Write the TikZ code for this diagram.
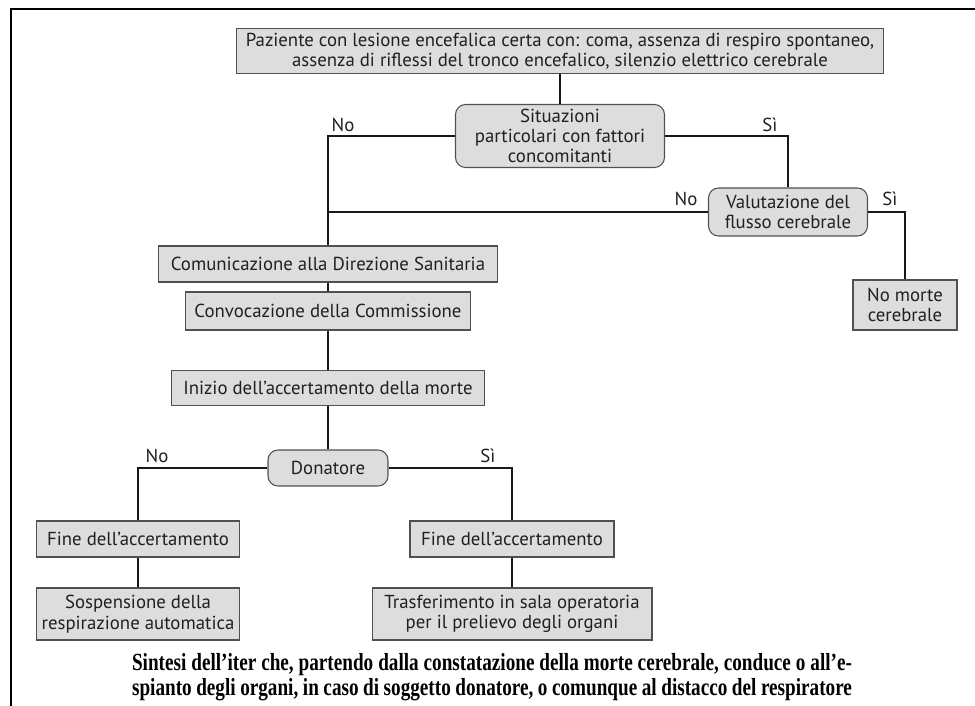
\documentclass[tikz,border=0pt]{standalone}
\usepackage{fontspec}
\usepackage{tikz}
\usetikzlibrary{positioning,calc}
\newfontfamily\boxfont{PT Sans}
\newfontfamily\capfont[FakeStretch=0.78]{Liberation Serif}
\definecolor{boxfill}{RGB}{221,221,221}
\definecolor{boxline}{RGB}{80,80,80}
\definecolor{inkgray}{RGB}{35,31,32}

\tikzset{
    box/.style={draw=boxline, fill=boxfill, line width=0.6pt, align=center, inner sep=2pt,
        text=inkgray, font=\boxfont\fontsize{10.7}{11.6}\selectfont},
    rbox/.style={box, rounded corners=0.2cm},
    lbl/.style={text=inkgray, font=\boxfont\fontsize{10.7}{11.6}\selectfont},
    link/.style={line width=1.4pt, draw=black!90}
}

\begin{document}
\begin{tikzpicture}[x=0.02cm, y=-0.02cm]
    \useasboundingbox (0,0) rectangle (975,706);
    \clip (0,0) rectangle (975,706);

    % open frame
    \draw[line width=1.2pt] (11,720) -- (11,9) -- (990,9);

    % start and first check
    \node[box, minimum width=12.96cm, minimum height=0.9cm] (paz) at (560,51)
        {Paziente con lesione encefalica certa con: coma, assenza di respiro spontaneo,\\assenza di riflessi del tronco encefalico, silenzio elettrico cerebrale};
    \node[rbox, minimum width=4.18cm, minimum height=1.26cm] (sit) at (560,136)
        {Situazioni\\particolari con fattori\\concomitanti};
    \draw[link] (paz) -- (sit);

    % flow check
    \node[rbox, minimum width=3.18cm, minimum height=0.96cm] (flusso) at (788,212)
        {Valutazione del\\flusso cerebrale};
    \node[box, minimum width=2.08cm, minimum height=1.0cm] (nomorte) at (905,305)
        {No morte\\cerebrale};

    % main column
    \node[box, minimum width=6.78cm, minimum height=0.72cm] (comm) at (328,264)
        {Comunicazione alla Direzione Sanitaria};
    \node[box, minimum width=5.7cm, minimum height=0.76cm] (conv) at (328,311)
        {Convocazione della Commissione};
    \node[box, minimum width=6.26cm, minimum height=0.7cm] (inizio) at (328,388)
        {Inizio dell’accertamento della morte};
    \node[rbox, minimum width=2.4cm, minimum height=0.72cm] (don) at (328,468)
        {Donatore};

    % end branches
    \node[box, minimum width=4.06cm, minimum height=0.72cm] (fineno) at (138,539)
        {Fine dell’accertamento};
    \node[box, minimum width=4.08cm, minimum height=0.72cm] (finesi) at (512,539)
        {Fine dell’accertamento};
    \node[box, minimum width=4.06cm, minimum height=1.04cm] (sosp) at (138,614)
        {Sospensione della\\respirazione automatica};
    \node[box, minimum width=5.6cm, minimum height=1.04cm] (trasf) at (512,614)
        {Trasferimento in sala operatoria\\per il prelievo degli organi};

    % connectors
    \draw[link] (sit.west) -| (comm.north);
    \draw[link] (sit.east) -| (flusso.north);
    \draw[link] (flusso.west) -- (flusso.west -| comm.north);
    \draw[link] (flusso.east) -| (nomorte.north);
    \draw[link] (comm) -- (conv);
    \draw[link] (conv) -- (inizio);
    \draw[link] (inizio) -- (don);
    \draw[link] (don.west) -| (fineno.north);
    \draw[link] (don.east) -| (finesi.north);
    \draw[link] (fineno) -- (sosp);
    \draw[link] (finesi) -- (trasf);

    % answers
    \node[lbl] (no1) at (343,125) {No};
    \node[lbl] (si1) at (770,125) {Sì};
    \node[lbl] (no2) at (686,199) {No};
    \node[lbl] (si2) at (890,199) {Sì};
    \node[lbl] (no3) at (157,456) {No};
    \node[lbl] (si3) at (488,456) {Sì};

    % caption
    \node[align=center, inner sep=0pt, font=\capfont\bfseries\fontsize{14}{14}\selectfont] (cap) at (492,677)
        {\makebox[14.4cm][s]{Sintesi dell’iter che, partendo dalla constatazione della morte cerebrale, conduce o all’e-}\\
         \makebox[14.4cm][s]{spianto degli organi, in caso di soggetto donatore, o comunque al distacco del respiratore}};
\end{tikzpicture}
\end{document}
